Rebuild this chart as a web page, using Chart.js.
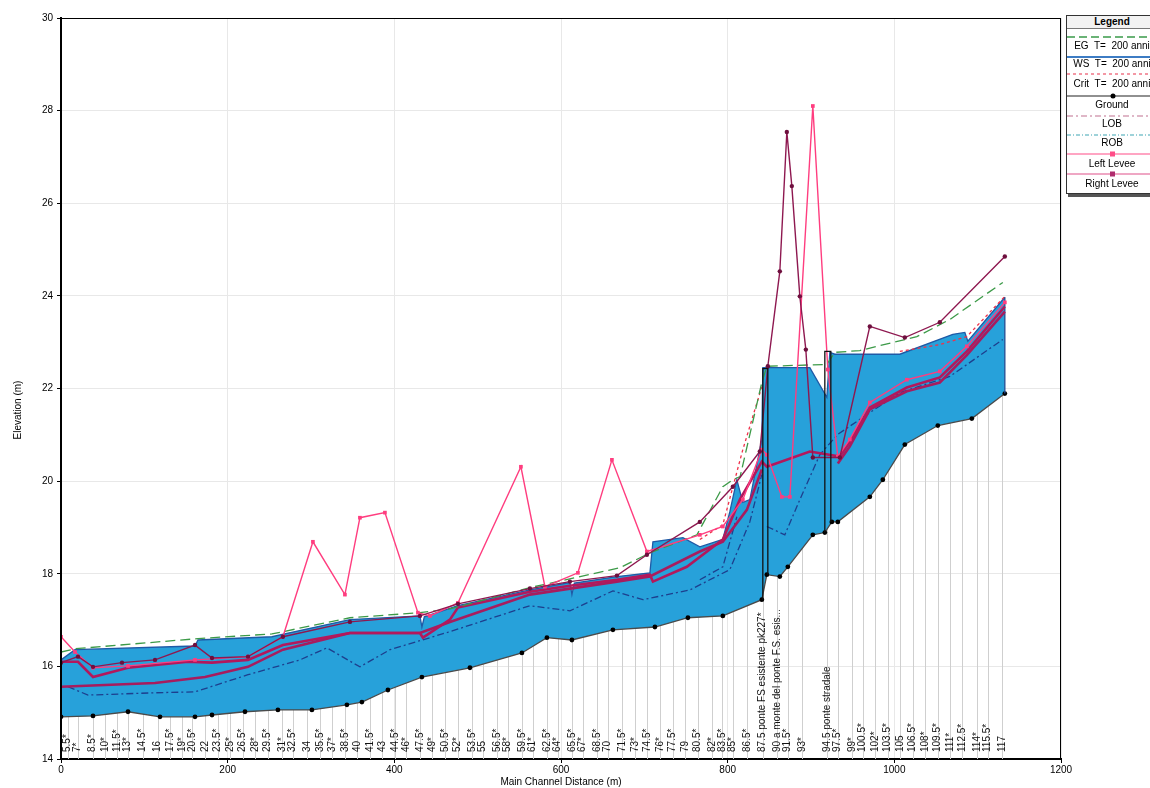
<!DOCTYPE html>
<html>
<head>
<meta charset="utf-8">
<title>Profilo longitudinale</title>
<script src="https://cdn.jsdelivr.net/npm/chart.js@4.4.1/dist/chart.umd.min.js"></script>
<style>
  html, body { margin:0; padding:0; background:#fff; overflow:hidden; }
  #wrap { position:relative; width:1150px; height:788px; overflow:hidden; }
  #chart { position:absolute; left:0; top:0; }
  #legend { position:absolute; left:1066px; top:15px; width:90px; height:177px;
            border:1px solid #333; background:#fff; box-shadow:2px 3px 0 #555;
            font-family:"Liberation Sans", Arial, sans-serif; font-size:10px; color:#000; }
  #legend .hdr { position:absolute; left:0; right:0; top:0; height:12px; line-height:12px;
                 text-align:center; font-weight:bold; border-bottom:1px solid #777; background:#f2f2f2; }
  #legend .t { position:absolute; left:0; right:0; height:12px; line-height:12px; text-align:center; white-space:nowrap; }
  #legend svg { position:absolute; left:0; width:90px; height:8px; }
</style>
</head>
<body>
<div id="wrap">
  <canvas id="chart" width="1150" height="788"></canvas>
  <div id="legend">
    <div class="hdr">Legend</div>
    <svg style="top:17px"><line x1="0" y1="4" x2="90" y2="4" stroke="#3a9a4a" stroke-width="1.5" stroke-dasharray="8,4"/></svg>
    <div class="t" style="top:24px">EG&nbsp; T=&nbsp; 200 anni</div>
    <svg style="top:37px"><line x1="0" y1="4" x2="90" y2="4" stroke="#3d7cc4" stroke-width="2"/></svg>
    <div class="t" style="top:42px">WS&nbsp; T=&nbsp; 200 anni</div>
    <svg style="top:54px"><line x1="0" y1="4" x2="90" y2="4" stroke="#e8304a" stroke-width="1.2" stroke-dasharray="3,3"/></svg>
    <div class="t" style="top:62px">Crit&nbsp; T=&nbsp; 200 anni</div>
    <svg style="top:76px"><line x1="0" y1="4" x2="90" y2="4" stroke="#222" stroke-width="1.2"/><circle cx="46" cy="4" r="2.5" fill="#000"/></svg>
    <div class="t" style="top:83px">Ground</div>
    <svg style="top:96px"><line x1="0" y1="4" x2="90" y2="4" stroke="#c07090" stroke-width="1.2" stroke-dasharray="6,3,2,3"/></svg>
    <div class="t" style="top:102px">LOB</div>
    <svg style="top:115px"><line x1="0" y1="4" x2="90" y2="4" stroke="#3fa6b4" stroke-width="1.2" stroke-dasharray="4,2,1,2"/></svg>
    <div class="t" style="top:121px">ROB</div>
    <svg style="top:134px"><line x1="0" y1="4" x2="90" y2="4" stroke="#ff4d88" stroke-width="1.2"/><rect x="43" y="1.5" width="5" height="5" fill="#ff4d88"/></svg>
    <div class="t" style="top:142px">Left Levee</div>
    <svg style="top:154px"><line x1="0" y1="4" x2="90" y2="4" stroke="#e0508a" stroke-width="1.2"/><rect x="43" y="1.5" width="5" height="5" fill="#b02c6e"/></svg>
    <div class="t" style="top:162px">Right Levee</div>
  </div>
</div>
<script>
// Distanze (m) lungo l'asse del canale e quote (m s.l.m.) per ciascuna grandezza del profilo

const distanceTicks = [0, 200, 400, 600, 800, 1000, 1200];
const elevationTicks = [14, 16, 18, 20, 22, 24, 26, 28, 30];

// Sezioni trasversali: progressiva e etichetta
const sectionStations = [8, 20, 38, 53, 67, 80, 98, 116, 131, 145, 157, 173, 188, 203, 218, 233, 248, 265, 278, 295,
  311, 325, 341, 355, 371, 385, 401, 414, 431, 445, 461, 476, 493, 506, 523, 536, 553, 566, 583, 596,
  613, 626, 643, 656, 673, 689, 703, 719, 734, 749, 764, 781, 793, 806, 823,
  842, 859, 872, 889, 919,
  932, 949, 962, 977, 992, 1007, 1022, 1037, 1052, 1067, 1081, 1099, 1112, 1129];
const sectionLabels = ['5.5*', '7*', '8.5*', '10*', '11.5*', '13*', '14.5*', '16', '17.5*', '19*', '20.5*', '22', '23.5*', '25*', '26.5*', '28*', '29.5*', '31*', '32.5*', '34',
  '35.5*', '37*', '38.5*', '40', '41.5*', '43', '44.5*', '46*', '47.5*', '49*', '50.5*', '52*', '53.5*', '55', '56.5*', '58*', '59.5*', '61*', '62.5*', '64*',
  '65.5*', '67*', '68.5*', '70', '71.5*', '73*', '74.5*', '76*', '77.5*', '79', '80.5*', '82*', '83.5*', '85*', '86.5*',
  '87.5 ponte FS esistente pk227*', '90 a monte del ponte F.S. esis...', '91.5*', '93*', '94.5 ponte stradale',
  '97.5*', '99*', '100.5*', '102*', '103.5*', '105', '106.5*', '108*', '109.5*', '111*', '112.5*', '114*', '115.5*', '117'];

// Fondo alveo (thalweg)
const groundX = [0, 38.4, 80.4, 118.8, 160.8, 181.2, 220.8, 260.3, 301.1, 343.1, 361.1, 392.3, 433.1, 490.7, 553.1, 583.1, 613.1, 662.3, 712.7, 752.3,
  794.2, 841.0, 847.0, 862.6, 872.2, 902.2, 916.6, 925.0, 932.2, 970.6, 986.2, 1012.6, 1052.2, 1093.0, 1132.6];
const groundZ = [14.91, 14.93, 15.02, 14.91, 14.91, 14.95, 15.02, 15.06, 15.06, 15.17, 15.23, 15.49, 15.77, 15.97, 16.29, 16.62, 16.57, 16.79, 16.85, 17.05,
  17.09, 17.44, 17.98, 17.94, 18.15, 18.84, 18.89, 19.12, 19.12, 19.66, 20.03, 20.79, 21.20, 21.35, 21.89];

// Pelo libero, T = 200 anni
const wsX = [0, 16.8, 160.8, 164.4, 253.1, 346.7, 430.7, 433.1, 436.0, 476.3, 562.7, 610.7, 613.1, 616.0, 667.1, 706.7, 710.3, 746.3, 766.6, 794.2,
  802.6, 811.0, 818.2, 826.6, 841.0, 842.2, 898.6, 919.0, 922.6, 928.6, 1006.6, 1070.2, 1084.6, 1088.2, 1132.6];
const wsZ = [16.14, 16.36, 16.44, 16.57, 16.64, 17.01, 17.09, 16.85, 17.07, 17.31, 17.65, 17.81, 17.55, 17.80, 17.94, 18.02, 18.69, 18.78, 18.58, 18.74,
  19.34, 20.03, 19.54, 19.60, 20.90, 22.45, 22.45, 21.81, 22.78, 22.74, 22.74, 23.17, 23.21, 23.02, 23.97];

// Chiusura di monte della sezione bagnata
const endX = [1132.6, 1132.6];
const endZ = [21.89, 23.97];

// Linea dell'energia, T = 200 anni
const egX = [0, 16.8, 164.4, 253.1, 346.7, 430.7, 466.7, 562.7, 670.7, 706.7, 763.1, 794.2, 806.2, 815.0, 841.0, 847.0, 919.0, 928.6, 958.6, 1027.0, 1066.6, 1130.2];
const egZ = [16.31, 16.38, 16.60, 16.70, 17.05, 17.16, 17.24, 17.70, 18.13, 18.45, 18.84, 19.88, 20.03, 20.10, 22.13, 22.48, 22.52, 22.78, 22.82, 23.12, 23.49, 24.29];

// Altezza critica, T = 200 anni (tratti)
const critX = [766.6, 794.2, 818.2, 841.0, 900.0, 1006.6, 1054.6, 1087.0, 1132.6];
const critZ = [18.74, 19.06, 20.68, 22.04, null, 22.80, 22.95, 23.12, 23.99];

// Linee tratto-punto interne all'alveo
const dashAX = [8.4, 32.4, 112.8, 160.8, 224.4, 286.7, 319.1, 358.7, 394.7, 466.7, 562.7, 610.7, 662.3, 698.3, 754.6, 802.6, 826.6, 841.0];
const dashAZ = [15.56, 15.38, 15.43, 15.45, 15.82, 16.14, 16.40, 15.99, 16.36, 16.75, 17.31, 17.20, 17.63, 17.44, 17.65, 18.09, 19.12, 20.14];
const dashBX = [766.6, 794.2, 811.0, 830.0, 847.0, 868.6, 886.6, 910.6, 932.2, 970.6, 1006.6, 1066.6, 1130.2];
const dashBZ = [17.87, 18.15, 19.23, null, 19.02, 18.84, 19.60, 20.57, 21.01, 21.48, 21.91, 22.26, 23.06];

// Sponde (LOB / ROB)
const lobX = [0, 20.4, 38.4, 80.4, 152.4, 181.2, 224.4, 266.3, 346.7, 430.7, 434.3, 466.7, 476.3, 562.7, 610.7, 667.1, 706.7, 710.3, 751.0, 794.2,
  814.6, 841.0, 847.0, 898.6, 934.6, 946.6, 970.6, 1015.0, 1054.6, 1087.0, 1132.6];
const lobZ = [16.10, 16.10, 15.77, 15.97, 16.10, 16.08, 16.14, 16.46, 16.72, 16.72, 16.62, 17.01, 17.27, 17.61, 17.74, 17.87, 17.98, 17.83, 18.15, 18.74,
  19.60, 20.42, 20.31, 20.64, 20.53, 20.85, 21.59, 22.02, 22.24, 22.80, 23.77];
const robX = [0, 112.8, 172.8, 224.4, 266.3, 346.7, 430.7, 466.7, 562.7, 667.1, 706.7, 766.6, 794.2, 823.0, 841.0, 880.0, 932.2, 946.6, 970.6, 1015.0, 1054.6, 1087.0, 1132.6];
const robZ = [15.56, 15.64, 15.77, 15.99, 16.36, 16.72, 16.72, 16.96, 17.55, 17.83, 17.94, 18.48, 18.69, 19.38, 20.25, null, 20.38, 20.75, 21.55, 21.94, 22.13, 22.72, 23.66];

// Argini sinistro e destro
const leftLeveeX = [0, 16.8, 38.4, 80.4, 160.8, 224.4, 266.3, 302.3, 340.7, 358.7, 388.7, 428.3, 442.7, 476.3, 551.9, 580.7, 620.3, 661.1, 703.1, 766.6,
  794.2, 818.2, 841.0, 847.0, 865.0, 874.6, 902.2, 920.2, 932.2, 946.6, 970.6, 1015.0, 1054.6, 1087.0, 1132.6];
const leftLeveeZ = [16.64, 16.31, 15.97, 16.01, 16.14, 16.21, 16.64, 18.69, 17.55, 19.21, 19.32, 17.16, 17.09, 17.37, 20.31, 17.72, 18.02, 20.46, 18.48, 18.84,
  19.02, 19.60, 20.68, 20.57, 19.66, 19.66, 28.10, 22.41, 20.53, 20.90, 21.70, 22.19, 22.37, 22.91, 23.86];
const rightLeveeX = [0, 20.4, 38.4, 73.2, 112.8, 160.8, 181.2, 224.4, 266.3, 346.7, 430.7, 476.3, 562.7, 610.7, 667.1, 703.1, 766.6, 806.2, 838.6, 848.2,
  862.6, 871.0, 877.0, 886.6, 893.8, 902.2, 934.6, 970.6, 1012.6, 1054.6, 1132.6];
const rightLeveeZ = [16.08, 16.21, 15.99, 16.08, 16.14, 16.46, 16.18, 16.21, 16.64, 16.96, 17.09, 17.35, 17.68, 17.83, 17.96, 18.41, 19.12, 19.88, 20.64, 22.48,
  24.53, 27.54, 26.37, 23.99, 22.84, 20.51, 20.51, 23.34, 23.10, 23.43, 24.85];

// Ponti: sagoma dell'impalcato
const bridge1X = [842.2, 842.2, 848.2, 848.2];
const bridge1Z = [17.44, 22.43, 22.43, 17.98];
const bridge2X = [916.6, 916.6, 923.8, 923.8];
const bridge2Z = [18.89, 22.80, 22.80, 19.12];

const FONT = '"Liberation Sans", Arial, Helvetica, sans-serif';
const pts = (xs, zs) => xs.map((x, i) => ({ x: x, y: zs[i] }));

const datasets = [
  { label: 'Ground', data: pts(groundX, groundZ), borderColor: '#4a4a4a', borderWidth: 1.3,
    pointRadius: 2.4, pointBackgroundColor: '#000', pointBorderWidth: 0, order: 9 },
  { label: 'WS  T=  200 anni', data: pts(wsX, wsZ), borderColor: '#1f5aa6', borderWidth: 1.3, pointRadius: 0,
    fill: { target: 0 }, backgroundColor: '#27a1da', order: 10 },
  { label: 'Crit (sx)', data: pts(dashAX, dashAZ), borderColor: '#1d3f8e', borderWidth: 1.3, borderDash: [7, 3, 2, 3], pointRadius: 0, order: 8 },
  { label: 'Crit (dx)', data: pts(dashBX, dashBZ), borderColor: '#1d3f8e', borderWidth: 1.3, borderDash: [7, 3, 2, 3], pointRadius: 0, order: 8 },
  { label: 'ROB', data: pts(robX, robZ), borderColor: '#a81c5e', borderWidth: 2.6, pointRadius: 0, order: 7 },
  { label: 'LOB', data: pts(lobX, lobZ), borderColor: '#b3185c', borderWidth: 2.6, pointRadius: 0, order: 6 },
  { label: 'Crit  T=  200 anni', data: pts(critX, critZ), borderColor: '#f0304a', borderWidth: 1.3, borderDash: [3, 3], pointRadius: 0, order: 5 },
  { label: 'EG  T=  200 anni', data: pts(egX, egZ), borderColor: '#3c9a48', borderWidth: 1.3, borderDash: [10, 5], pointRadius: 0, order: 4 },
  { label: 'Left Levee', data: pts(leftLeveeX, leftLeveeZ), borderColor: '#ff3d7f', borderWidth: 1.4,
    pointStyle: 'rect', pointRadius: 2.6, pointBackgroundColor: '#ff3d7f', pointBorderWidth: 0, order: 3 },
  { label: 'Right Levee', data: pts(rightLeveeX, rightLeveeZ), borderColor: '#8e1850', borderWidth: 1.4,
    pointStyle: 'circle', pointRadius: 2.2, pointBackgroundColor: '#6e0f3e', pointBorderWidth: 0, order: 2 },
  { label: 'Ponte FS', data: pts(bridge1X, bridge1Z), borderColor: '#111', borderWidth: 1.3, pointRadius: 0, order: 1 },
  { label: 'Ponte stradale', data: pts(bridge2X, bridge2Z), borderColor: '#111', borderWidth: 1.3, pointRadius: 0, order: 1 },
  { label: 'Sezione di monte', data: pts(endX, endZ), borderColor: '#1f4a90', borderWidth: 1.3, pointRadius: 0, order: 8 }
];

// Linee verticali delle sezioni sotto il fondo, etichette ruotate, cornice e titolo asse quote
const sectionsPlugin = {
  id: 'sections',
  beforeDatasetsDraw(chart) {
    const { ctx, chartArea, scales } = chart;
    const g = chart.getDatasetMeta(0).data;
    ctx.save();
    ctx.beginPath();
    ctx.moveTo(g[0].x, g[0].y);
    g.forEach(p => ctx.lineTo(p.x, p.y));
    ctx.lineTo(g[g.length - 1].x, chartArea.bottom);
    ctx.lineTo(g[0].x, chartArea.bottom);
    ctx.closePath();
    ctx.clip();
    ctx.strokeStyle = '#cfcfcf';
    ctx.lineWidth = 1;
    sectionStations.forEach(s => {
      const px = Math.round(scales.x.getPixelForValue(s)) + 0.5;
      ctx.beginPath();
      ctx.moveTo(px, chartArea.top);
      ctx.lineTo(px, chartArea.bottom);
      ctx.stroke();
    });
    ctx.restore();
  },
  afterDatasetsDraw(chart) {
    const { ctx, chartArea, scales } = chart;
    ctx.save();
    ctx.font = '10px ' + FONT;
    ctx.fillStyle = '#111';
    ctx.textAlign = 'left';
    ctx.textBaseline = 'middle';
    sectionStations.forEach((s, i) => {
      const px = scales.x.getPixelForValue(s);
      ctx.save();
      ctx.translate(px, chartArea.bottom - 7);
      ctx.rotate(-Math.PI / 2);
      ctx.fillText(sectionLabels[i], 0, 0);
      ctx.restore();
    });
    ctx.restore();
  },
  afterDraw(chart) {
    const { ctx, chartArea } = chart;
    ctx.save();
    ctx.strokeStyle = '#000';
    ctx.lineWidth = 1;
    ctx.strokeRect(chartArea.left + 0.5, chartArea.top + 0.5, chartArea.right - chartArea.left - 1, chartArea.bottom - chartArea.top);
    ctx.font = '10px ' + FONT;
    ctx.fillStyle = '#000';
    ctx.textAlign = 'center';
    ctx.textBaseline = 'middle';
    ctx.translate(18, 410);
    ctx.rotate(-Math.PI / 2);
    ctx.fillText('Elevation (m)', 0, 0);
    ctx.restore();
  }
};

new Chart(document.getElementById('chart'), {
  type: 'scatter',
  data: { datasets: datasets.map(d => Object.assign({ showLine: true, tension: 0, spanGaps: false }, d)) },
  options: {
    responsive: false,
    animation: false,
    devicePixelRatio: 1,
    layout: { padding: { top: 18, right: 89, left: 0, bottom: 0 } },
    plugins: { legend: { display: false }, tooltip: { enabled: false } },
    scales: {
      x: {
        type: 'linear', min: distanceTicks[0], max: distanceTicks[distanceTicks.length - 1],
        afterBuildTicks(s) { s.ticks = distanceTicks.map(v => ({ value: v })); },
        ticks: { color: '#000', font: { family: FONT, size: 10 }, padding: 1, maxRotation: 0, callback: v => String(v) },
        grid: { color: '#e8e8e8', tickColor: '#000', tickLength: 4 },
        border: { color: '#000', width: 2 },
        title: { display: true, text: 'Main Channel Distance (m)', color: '#000', font: { family: FONT, size: 10 }, padding: { top: 1, bottom: 0 } },
        afterFit(s) { s.height = 29; }
      },
      y: {
        type: 'linear', min: elevationTicks[0], max: elevationTicks[elevationTicks.length - 1],
        afterBuildTicks(s) { s.ticks = elevationTicks.map(v => ({ value: v })); },
        ticks: { color: '#000', font: { family: FONT, size: 10 }, padding: 4, callback: v => String(v) },
        grid: { color: '#e8e8e8', tickColor: '#000', tickLength: 4 },
        border: { color: '#000', width: 2 },
        afterFit(s) { s.width = 61; }
      }
    }
  },
  plugins: [sectionsPlugin]
});
</script>
</body>
</html>
